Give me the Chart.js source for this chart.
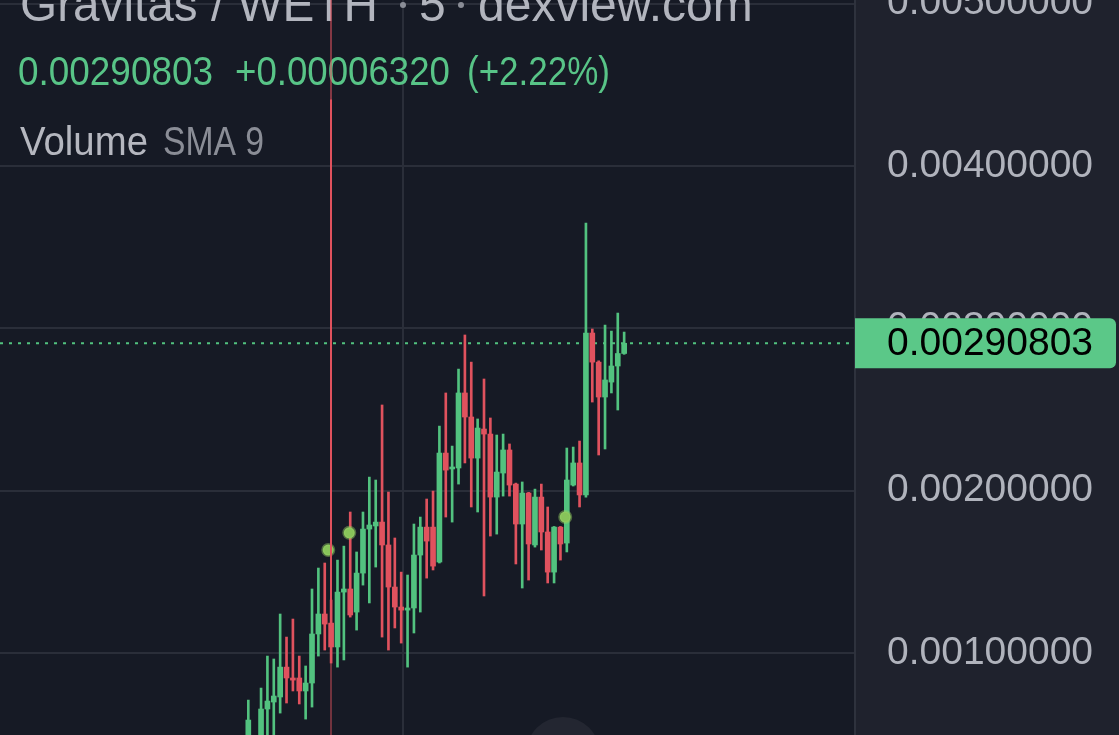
<!DOCTYPE html>
<html>
<head>
<meta charset="utf-8">
<script src="https://cdn.jsdelivr.net/npm/chart.js@4.4.1/dist/chart.umd.min.js"></script>
<style>
  html, body { margin: 0; padding: 0; background: #1f222d; overflow: hidden; }
  #chart { display: block; }
</style>
</head>
<body>
<canvas id="chart" width="1119" height="735"></canvas>
<script>
// candle data, one slot per 5 min bar (slot 1 is below the visible area)
const openP = [0.000404, null, 0.000465, 0.000656, 0.000699, 0.000730, 0.000914, 0.000847, 0.000847, 0.000767,
  0.000816, 0.001118, 0.001241, 0.001185, 0.001038, 0.001376, 0.001395, 0.001253, 0.001493, 0.001764,
  0.001783, 0.001807, 0.001666, 0.001407, 0.001284, 0.001265, 0.001278, 0.001604, 0.001776, 0.001776,
  0.001561, 0.002232, 0.002134, 0.002140, 0.002602, 0.002454, 0.002201, 0.002380, 0.002349, 0.001961,
  0.002109, 0.002251, 0.002041, 0.001795, 0.001986, 0.001666, 0.001961, 0.001746, 0.001499, 0.001776,
  0.001678, 0.002035, 0.002171, 0.001974, 0.002971, 0.002792, 0.002577, 0.002669, 0.002768, 0.002845];
const highP = [0.000711, null, 0.000785, 0.000982, 0.000964, 0.001241, 0.001099, 0.001210, 0.000982, 0.000921,
  0.001395, 0.001524, 0.001555, 0.001327, 0.001573, 0.001659, 0.001869, 0.001623, 0.001869, 0.002084,
  0.002066, 0.002528, 0.001992, 0.001709, 0.001499, 0.001481, 0.001795, 0.001838, 0.001949, 0.001998,
  0.002398, 0.002602, 0.002275, 0.002749, 0.002959, 0.002792, 0.002442, 0.002688, 0.002448, 0.002343,
  0.002349, 0.002288, 0.002047, 0.002054, 0.001990, 0.002010, 0.002041, 0.001900, 0.001780, 0.001780,
  0.002263, 0.002269, 0.002306, 0.003648, 0.002996, 0.002800, 0.003020, 0.002983, 0.003094, 0.002977];
const lowP = [0.000342, null, 0.000372, 0.000434, 0.000434, 0.000631, 0.000693, 0.000767, 0.000687, 0.000594,
  0.000668, 0.000982, 0.001019, 0.000939, 0.000914, 0.000958, 0.001222, 0.001142, 0.001419, 0.001309,
  0.001530, 0.001099, 0.001019, 0.001155, 0.001062, 0.000914, 0.001124, 0.001253, 0.001462, 0.001512,
  0.001555, 0.001838, 0.001807, 0.002041, 0.002171, 0.001900, 0.001869, 0.001352, 0.001721, 0.001733,
  0.001967, 0.001967, 0.001549, 0.001401, 0.001450, 0.001653, 0.001635, 0.001432, 0.001432, 0.001573,
  0.001623, 0.002029, 0.001900, 0.001961, 0.002546, 0.002220, 0.002257, 0.002602, 0.002497, 0.002840];
const closeP = [0.000588, null, 0.000656, 0.000705, 0.000736, 0.000914, 0.000847, 0.000834, 0.000767, 0.000816,
  0.001118, 0.001241, 0.001179, 0.001038, 0.001376, 0.001395, 0.001235, 0.001493, 0.001764, 0.001789,
  0.001807, 0.001666, 0.001407, 0.001284, 0.001265, 0.001278, 0.001604, 0.001776, 0.001690, 0.001536,
  0.002232, 0.002127, 0.002146, 0.002602, 0.002454, 0.002201, 0.002386, 0.002349, 0.001961, 0.002115,
  0.002251, 0.002035, 0.001795, 0.001986, 0.001672, 0.001961, 0.001746, 0.001499, 0.001776, 0.001672,
  0.002066, 0.002171, 0.001974, 0.002971, 0.002792, 0.002577, 0.002682, 0.002768, 0.002845, 0.00290803];

// buy markers (green dots)
const markerX = [12.55, 15.85, 49.75];
const markerY = [0.001635, 0.001741, 0.001838];

const yTicks = [0.001, 0.002, 0.003, 0.004, 0.005];
const gridX = [24.3];
const separatorIndex = 13;
const lastPrice = 0.00290803;
const title = 'Gravitas / WETH';
const interval = '5';
const source = 'dexview.com';
const changeText = '+0.00006320';
const changePct = '(+2.22%)';

const GREEN = '#52c27f';
const RED = '#e0525e';
const TEXT_GREEN = '#58c487';
const GRID = '#2a2e39';

const slots = openP.map((v, i) => i).filter(i => openP[i] !== null);
const up = i => closeP[i] >= openP[i];

const wickData = slots.map(i => ({ x: i, y: [lowP[i], highP[i]] }));
const bodyData = slots.map(i => ({ x: i, y: [Math.min(openP[i], closeP[i]), Math.max(openP[i], closeP[i])] }));
const candleColors = slots.map(i => up(i) ? GREEN : RED);

// backgrounds, legend text, price line, price tag
const decor = {
    id: 'decor',
    beforeDraw(chart) {
        const { ctx, chartArea } = chart;
        ctx.save();
        ctx.fillStyle = '#1f222d';
        ctx.fillRect(0, 0, chart.width, chart.height);
        ctx.fillStyle = '#161a25';
        ctx.fillRect(chartArea.left, chartArea.top, chartArea.right - chartArea.left, chartArea.bottom - chartArea.top);
        ctx.restore();
    },
    beforeDatasetsDraw(chart) {
        const { ctx, chartArea, scales } = chart;
        ctx.save();
        ctx.textBaseline = 'alphabetic';
        ctx.textAlign = 'left';
        ctx.font = '48px "Liberation Sans", Arial, sans-serif';
        ctx.fillStyle = '#b2b5be';
        ctx.fillText(title, 20, 21, 358);
        ctx.fillText(interval, 419, 21, 28);
        ctx.fillText(source, 478, 21, 277);
        ctx.fillStyle = '#8a8d96';
        ctx.beginPath(); ctx.arc(403, 5, 3, 0, Math.PI * 2); ctx.fill();
        ctx.beginPath(); ctx.arc(461, 5, 3, 0, Math.PI * 2); ctx.fill();

        ctx.font = '40px "Liberation Sans", Arial, sans-serif';
        ctx.fillStyle = TEXT_GREEN;
        ctx.fillText(lastPrice.toFixed(8), 18, 85, 195);
        ctx.fillText(changeText, 235, 85, 215);
        ctx.fillText(changePct, 467, 85, 143);

        ctx.fillStyle = '#b5b7bf';
        ctx.fillText('Volume', 20, 155, 128);
        ctx.fillStyle = '#8a8d96';
        ctx.fillText('SMA 9', 163, 155, 101);

        // dotted last price line
        const py = scales.y.getPixelForValue(lastPrice);
        ctx.strokeStyle = GREEN;
        ctx.lineWidth = 2;
        ctx.setLineDash([3, 6]);
        ctx.beginPath();
        ctx.moveTo(chartArea.left, py);
        ctx.lineTo(chartArea.right, py);
        ctx.stroke();
        ctx.restore();
    },
    afterDatasetsDraw(chart) {
        const { ctx, chartArea, scales } = chart;
        ctx.save();
        // session separator
        const sx = Math.round(scales.x.getPixelForValue(separatorIndex));
        const yTop = scales.y.getPixelForValue(0.00441);
        const yBot = scales.y.getPixelForValue(lowP[separatorIndex]);
        ctx.lineWidth = 2;
        ctx.strokeStyle = 'rgba(224,82,94,0.55)';
        ctx.beginPath(); ctx.moveTo(sx, chartArea.top); ctx.lineTo(sx, yTop); ctx.stroke();
        ctx.strokeStyle = 'rgba(224,82,94,0.45)';
        ctx.beginPath(); ctx.moveTo(sx, yBot); ctx.lineTo(sx, chartArea.bottom); ctx.stroke();
        ctx.strokeStyle = RED;
        ctx.beginPath(); ctx.moveTo(sx, yTop); ctx.lineTo(sx, yBot); ctx.stroke();

        // price tag on the axis
        const py = scales.y.getPixelForValue(lastPrice);
        ctx.fillStyle = '#5bc888';
        ctx.beginPath();
        ctx.roundRect(chartArea.right, py - 25, 261, 50, [0, 6, 6, 0]);
        ctx.fill();
        ctx.fillStyle = '#000000';
        ctx.font = '39px "Liberation Sans", Arial, sans-serif';
        ctx.textBaseline = 'middle';
        ctx.fillText(lastPrice.toFixed(8), chartArea.right + 32, py + 1);

        // scroll button at the bottom
        ctx.fillStyle = 'rgba(36,39,50,0.95)';
        ctx.beginPath();
        ctx.arc(563, 754, 37, 0, Math.PI * 2);
        ctx.fill();
        ctx.restore();
    }
};

const ctx = document.getElementById('chart').getContext('2d');
const chart = new Chart(ctx, {
    type: 'bar',
    data: {
        datasets: [{
            label: 'wick',
            data: wickData,
            backgroundColor: candleColors,
            barThickness: 2,
            grouped: false,
            order: 2
        }, {
            label: 'body',
            data: bodyData,
            backgroundColor: candleColors,
            barThickness: 5,
            minBarLength: 2,
            grouped: false,
            order: 1
        }, {
            type: 'scatter',
            label: 'buys',
            data: markerX.map((x, k) => ({ x: x, y: markerY[k] })),
            pointRadius: 5.5,
            pointBackgroundColor: '#88c45a',
            pointBorderColor: 'rgba(150,210,100,0.45)',
            pointBorderWidth: 3,
            order: 0
        }]
    },
    options: {
        responsive: false,
        animation: false,
        devicePixelRatio: 1,
        layout: { padding: 0, autoPadding: false },
        plugins: {
            legend: { display: false },
            tooltip: { enabled: false }
        },
        scales: {
            x: {
                type: 'linear',
                min: -38.98,
                max: 95.24,
                offset: false,
                afterBuildTicks: s => { s.ticks = gridX.map(v => ({ value: v })); },
                afterFit: s => { s.height = 0; s.paddingLeft = 0; s.paddingRight = 0; },
                ticks: { display: false },
                grid: { color: GRID, lineWidth: 2, drawTicks: false, offset: false },
                border: { display: false }
            },
            y: {
                position: 'right',
                min: 0.000496,
                max: 0.0050216,
                afterBuildTicks: s => { s.ticks = yTicks.map(v => ({ value: v })); },
                afterFit: s => { s.width = 264; s.paddingTop = 0; s.paddingBottom = 0; },
                ticks: {
                    padding: 32,
                    color: '#b0b3bc',
                    font: { family: '"Liberation Sans", Arial, sans-serif', size: 39 },
                    callback: v => Number(v).toFixed(8)
                },
                grid: { color: GRID, lineWidth: 2, drawTicks: false },
                border: { display: true, color: '#2e323d', width: 2 }
            }
        }
    },
    plugins: [decor]
});
</script>
</body>
</html>
